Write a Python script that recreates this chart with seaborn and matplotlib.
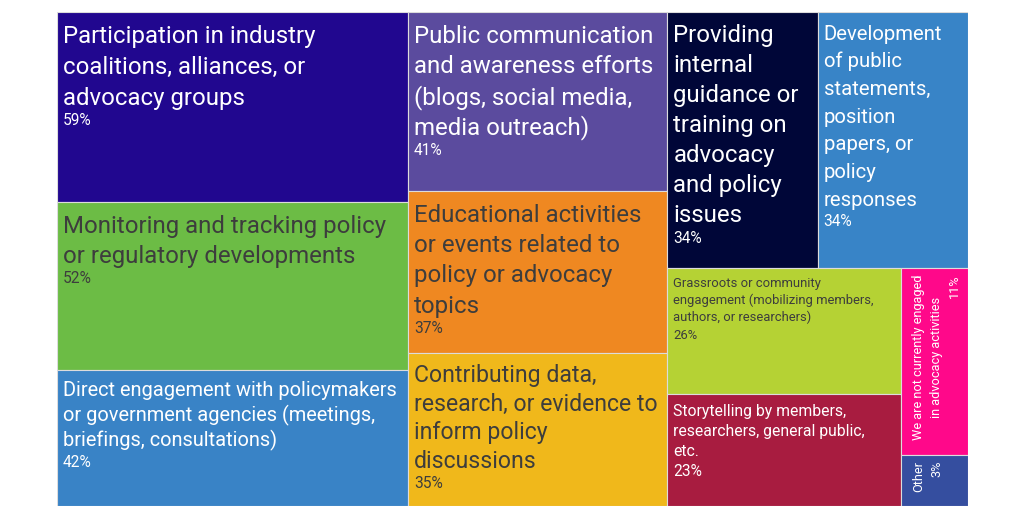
import matplotlib.pyplot as plt
import matplotlib.patches as mpatches
import seaborn as sns

# advocacy activities, share of respondents (%)
labels = [
    "Participation in industry\ncoalitions, alliances, or\nadvocacy groups",
    "Monitoring and tracking policy\nor regulatory developments",
    "Direct engagement with policymakers\nor government agencies (meetings,\nbriefings, consultations)",
    "Public communication\nand awareness efforts\n(blogs, social media,\nmedia outreach)",
    "Educational activities\nor events related to\npolicy or advocacy\ntopics",
    "Contributing data,\nresearch, or evidence to\ninform policy\ndiscussions",
    "Providing\ninternal\nguidance or\ntraining on\nadvocacy\nand policy\nissues",
    "Development\nof public\nstatements,\nposition\npapers, or\npolicy\nresponses",
    "Grassroots or community\nengagement (mobilizing members,\nauthors, or researchers)",
    "Storytelling by members,\nresearchers, general public,\netc.",
    "We are not currently engaged\nin advocacy activities",
    "Other",
]
shares = [59, 52, 42, 41, 37, 35, 34, 34, 26, 23, 11, 3]

fills = ["#21078f", "#6cbc45", "#3983c6", "#5b4b9e", "#ef8821", "#f0b81b",
         "#000638", "#3884c7", "#b5d234", "#a81c40", "#ff088a", "#354e9f"]
dark_text = {"#6cbc45", "#ef8821", "#f0b81b", "#b5d234"}
# label font size and line height per cell, in pixels
label_px = [24, 24, 20, 24, 24, 23, 24, 20.3, 13, 15.8, 12.7, 12.7]
line_h = [31, 30, 25, 30.7, 30.3, 28.5, 30, 27.7, 16.7, 19.8, 17.5, 17.5]


def squarify(values, x0, y0, x1, y1, ratio=(1 + 5 ** 0.5) / 2):
    # port of d3.treemapSquarify
    rects = []
    total = float(sum(values))
    i0, n = 0, len(values)
    while i0 < n:
        dx, dy = x1 - x0, y1 - y0
        i1 = i0 + 1
        row_sum = values[i0]
        vmin = vmax = row_sum
        alpha = max(dy / dx, dx / dy) / (total * ratio)
        beta = row_sum * row_sum * alpha
        min_ratio = max(vmax / beta, beta / vmin)
        while i1 < n:
            v = values[i1]
            s = row_sum + v
            lo, hi = min(vmin, v), max(vmax, v)
            beta = s * s * alpha
            new_ratio = max(hi / beta, beta / lo)
            if new_ratio > min_ratio:
                break
            row_sum, vmin, vmax, min_ratio = s, lo, hi, new_ratio
            i1 += 1
        row = values[i0:i1]
        if dx < dy:
            h = dy * row_sum / total
            cx = x0
            for v in row:
                w = dx * v / row_sum
                rects.append((cx, y0, w, h))
                cx += w
            y0 += h
        else:
            w = dx * row_sum / total
            cy = y0
            for v in row:
                h = dy * v / row_sum
                rects.append((x0, cy, w, h))
                cy += h
            x0 += w
        total -= row_sum
        i0 = i1
    return rects


sns.set_theme(style="white")
plt.rcParams['font.family'] = ['Roboto', 'DejaVu Sans']

W, H = 911, 494
fig = plt.figure(figsize=(10.24, 5.19), dpi=100)
# axes in pixel units: one data unit = one pixel
ax = fig.add_axes([57 / 1024, 13 / 519, W / 1024, H / 519])
ax.set_xlim(0, W)
ax.set_ylim(H, 0)
ax.axis('off')
renderer = fig.canvas.get_renderer()

rects = squarify(shares, 0, 0, W, H)
for (x, y, w, h), lab, val, fc, px, lh in zip(rects, labels, shares, fills, label_px, line_h):
    ax.add_patch(mpatches.Rectangle((x, y), w, h, facecolor=fc,
                                    edgecolor="#dcdcdc", linewidth=0.8))
    tc = "#3d3d3d" if fc in dark_text else "white"
    pct_px = min(15.5, px)
    lines = lab.split("\n")
    if w < 80:
        # narrow cells get vertical labels, lines centred, block hung from the top
        texts = [ax.text(0, 0, ln, rotation=90, rotation_mode='anchor',
                         ha='center', va='baseline', fontsize=px * 0.72, color=tc)
                 for ln in lines]
        longest = max(t.get_window_extent(renderer).height for t in texts)
        bx = x + 21
        for t in texts:
            t.set_position((bx, y + 6 + longest / 2))
            bx += lh
        ax.text(bx - lh + 18, y + 6, f"{val}%", rotation=90, rotation_mode='anchor',
                ha='right', va='baseline', fontsize=pct_px * 0.72, color=tc)
    else:
        by = y + 5 + (lh - px) / 2 + 0.93 * px
        for ln in lines:
            ax.text(x + 6, by, ln, ha='left', va='baseline',
                    fontsize=px * 0.72, color=tc)
            by += lh
        by += 6 + 0.93 * pct_px - lh
        ax.text(x + 6, by, f"{val}%", ha='left', va='baseline',
                fontsize=pct_px * 0.72, color=tc)

fig.savefig("out.png", dpi=100, facecolor="white")
